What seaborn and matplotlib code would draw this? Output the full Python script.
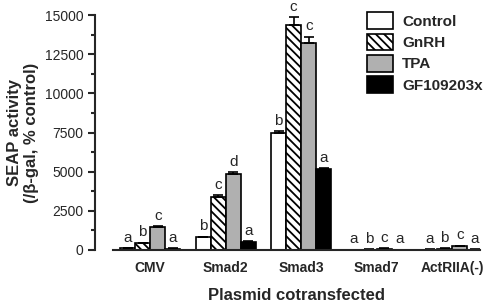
import numpy as np
import pandas as pd
import seaborn as sns
import matplotlib.pyplot as plt
from matplotlib.ticker import MultipleLocator

plasmids = ["CMV", "Smad2", "Smad3", "Smad7", "ActRIIA(-)"]
treatments = ["Control", "GnRH", "TPA", "GF109203x"]

control = [100, 820, 7500, 20, 30]
gnrh = [430, 3400, 14400, 30, 90]
tpa = [1480, 4850, 13250, 90, 260]
gf = [80, 520, 5180, 20, 30]

control_err = [20, 40, 120, 5, 5]
gnrh_err = [40, 120, 450, 5, 10]
tpa_err = [40, 120, 380, 10, 20]
gf_err = [15, 30, 60, 5, 5]

letters_control = ["a", "b", "b", "a", "a"]
letters_gnrh = ["b", "c", "c", "b", "b"]
letters_tpa = ["c", "d", "c", "c", "c"]
letters_gf = ["a", "a", "a", "a", "a"]

values = [control, gnrh, tpa, gf]
errors = [control_err, gnrh_err, tpa_err, gf_err]
letters = [letters_control, letters_gnrh, letters_tpa, letters_gf]

rows = []
for t, vals in zip(treatments, values):
    for p, v in zip(plasmids, vals):
        rows.append(dict(plasmid=p, treatment=t, seap=v))
df = pd.DataFrame(rows)

sns.set_theme(style="ticks")
plt.rcParams['font.family'] = ['Liberation Sans', 'DejaVu Sans']
plt.rcParams['hatch.linewidth'] = 1.3

fig = plt.figure(figsize=(4.9, 3.03), dpi=100)
ax = fig.add_axes([0.231, 0.175, 0.749, 0.775])

colors = ["white", "white", "#b0b0b0", "black"]
sns.barplot(data=df, x="plasmid", y="seap", hue="treatment", palette=colors,
            width=0.8, edgecolor="black", linewidth=1.2, legend=False, ax=ax)

for c in ax.containers[1]:
    c.set_hatch("\\\\\\\\")

# error bars and letters
for cont, errs, labs in zip(ax.containers, errors, letters):
    for bar, e, lab in zip(cont, errs, labs):
        x = bar.get_x() + bar.get_width() / 2
        h = bar.get_height()
        ax.errorbar(x, h, yerr=[[0], [e]], fmt="none", ecolor="black",
                    elinewidth=1.2, capsize=3.5, capthick=1.2)
        ax.text(x, h + e + 200, lab, ha="center", va="bottom", fontsize=11)

ax.set_xlim(-0.49, 4.37)
ax.set_ylim(0, 15000)
ax.yaxis.set_major_locator(MultipleLocator(2500))
ax.yaxis.set_minor_locator(MultipleLocator(1250))
ax.tick_params(axis="y", which="major", length=5, width=1.5, labelsize=10)
ax.tick_params(axis="y", which="minor", length=3, width=1.5)
ax.tick_params(axis="x", length=0, labelsize=10, pad=8)
for lab in ax.get_xticklabels() + ax.get_yticklabels():
    lab.set_fontweight("bold")

sns.despine(ax=ax)
ax.spines['left'].set_position(('outward', 13))
ax.spines['left'].set_linewidth(1.5)
ax.spines['bottom'].set_linewidth(1.5)

ax.set_xlabel("Plasmid cotransfected", fontsize=12, fontweight="bold", labelpad=9)
ax.set_ylabel("SEAP activity\n(/β-gal, % control)", fontsize=12, fontweight="bold")

handles = [c[0] for c in ax.containers]
ax.legend(handles, treatments, loc="upper right", bbox_to_anchor=(1.045, 1.07),
          frameon=False, prop=dict(weight="bold", size=11),
          handlelength=1.7, handleheight=1.3, labelspacing=0.3, handletextpad=0.6)

fig.savefig("out.png", dpi=100)
